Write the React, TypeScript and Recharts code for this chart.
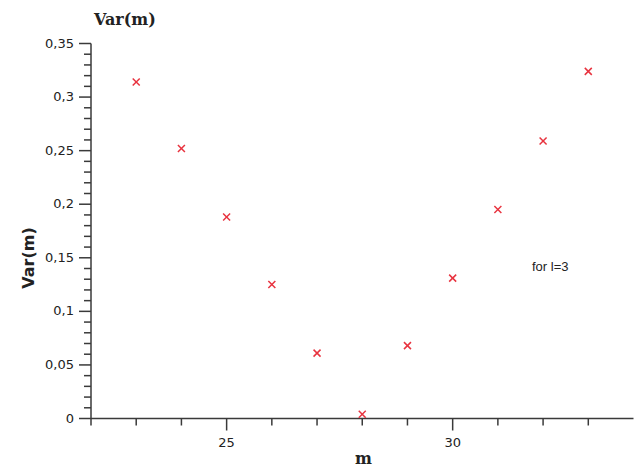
import { ScatterChart, Scatter, XAxis, YAxis } from 'recharts';

const mValues = [23, 24, 25, 26, 27, 28, 29, 30, 31, 32, 33];
const varValues = [0.314, 0.252, 0.188, 0.125, 0.061, 0.004, 0.068, 0.131, 0.195, 0.259, 0.324];

const xTicks = [22, 23, 24, 25, 26, 27, 28, 29, 30, 31, 32, 33];
const xLabeled = [25, 30];
const yTicks = [
  0, 0.01, 0.02, 0.03, 0.04, 0.05, 0.06, 0.07, 0.08, 0.09, 0.1, 0.11, 0.12, 0.13, 0.14, 0.15, 0.16, 0.17,
  0.18, 0.19, 0.2, 0.21, 0.22, 0.23, 0.24, 0.25, 0.26, 0.27, 0.28, 0.29, 0.3, 0.31, 0.32, 0.33, 0.34, 0.35,
];
const yLabeled = ['0', '0,05', '0,1', '0,15', '0,2', '0,25', '0,3', '0,35'];

const data = mValues.map((m, i) => ({ m, v: varValues[i] }));

const AXIS = '#3a3a3a';
const MARK = '#e8333f';

const XTick = (props: any) => {
  const { x, y, payload } = props;
  const major = xLabeled.includes(payload.value);
  return (
    <g>
      <line x1={x} x2={x} y1={y - 8} y2={y - 8 + (major ? 12 : 7)} stroke={AXIS} strokeWidth={1.5} />
      {major && (
        <text x={x} y={y + 20} textAnchor="middle" fontSize={13} fontFamily="DejaVu Sans" fill="#222">
          {payload.value}
        </text>
      )}
    </g>
  );
};

const YTick = (props: any) => {
  const { x, y, payload } = props;
  const idx = Math.round(payload.value * 100);
  const major = idx % 5 === 0;
  const ax = x + 8;
  return (
    <g>
      <line x1={ax} x2={ax - (major ? 12 : 7)} y1={y} y2={y} stroke={AXIS} strokeWidth={1.5} />
      {major && (
        <text x={ax - 17} y={y + 4} textAnchor="end" fontSize={13} fontFamily="DejaVu Sans" fill="#222">
          {yLabeled[idx / 5]}
        </text>
      )}
    </g>
  );
};

const Cross = (props: any) => {
  const { cx, cy } = props;
  const r = 3.5;
  return (
    <g stroke={MARK} strokeWidth={1.5}>
      <line x1={cx - r} y1={cy - r} x2={cx + r} y2={cy + r} />
      <line x1={cx - r} y1={cy + r} x2={cx + r} y2={cy - r} />
    </g>
  );
};

export default function App() {
  return (
    <div style={{ position: 'absolute', left: 0, top: 0, width: 635, height: 470, background: '#fff' }}>
      <ScatterChart width={635} height={470} margin={{ top: 43.5, right: 1.5, bottom: 0, left: 0 }}>
        <XAxis
          type="number"
          dataKey="m"
          domain={[22, 34]}
          ticks={xTicks}
          interval={0}
          height={51.5}
          stroke={AXIS}
          strokeWidth={1.5}
          tickLine={false}
          tick={<XTick />}
        />
        <YAxis
          type="number"
          dataKey="v"
          domain={[0, 0.35]}
          ticks={yTicks}
          interval={0}
          width={91}
          stroke={AXIS}
          strokeWidth={1.5}
          tickLine={false}
          tick={<YTick />}
        />
        <Scatter data={data} shape={<Cross />} isAnimationActive={false} />
      </ScatterChart>
      <div style={{ position: 'absolute', left: 94, top: 10, fontFamily: 'DejaVu Serif', fontWeight: 'bold', fontSize: 16, color: '#222' }}>
        Var(m)
      </div>
      <div
        style={{
          position: 'absolute',
          left: 28,
          top: 258,
          transform: 'translate(-50%, -50%) rotate(-90deg)',
          fontFamily: 'DejaVu Sans',
          fontWeight: 'bold',
          fontSize: 16,
          color: '#222',
          whiteSpace: 'nowrap',
        }}
      >
        Var(m)
      </div>
      <div style={{ position: 'absolute', left: 355, top: 449, fontFamily: 'DejaVu Serif', fontWeight: 'bold', fontSize: 16, color: '#222' }}>
        m
      </div>
      <div style={{ position: 'absolute', left: 532, top: 259, fontFamily: 'Liberation Sans', fontSize: 13, color: '#222' }}>
        for l=3
      </div>
    </div>
  );
}
